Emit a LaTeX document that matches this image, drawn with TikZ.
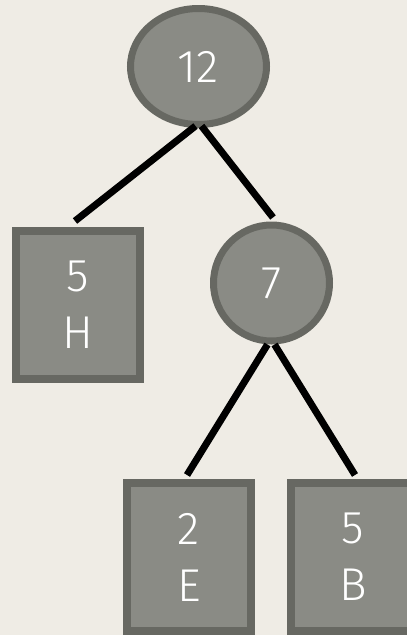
\documentclass[tikz,border=0pt]{standalone}
\usepackage{fontspec}
\setmainfont{Fira Sans}[UprightFont=* Light]
\usetikzlibrary{shapes.geometric}
\definecolor{paper}{HTML}{EFECE5}
\definecolor{nodefill}{HTML}{8A8B85}
\definecolor{nodeedge}{HTML}{676862}
\tikzset{
  inner/.style={draw=nodeedge, fill=nodefill, line width=7pt, text=white,
    font=\fontsize{46}{57}\selectfont, inner sep=0pt},
  innernode/.style={inner, ellipse},
  leafnode/.style={inner, rectangle, line width=8pt, minimum width=124pt,
    minimum height=148pt, align=center},
  treeedge/.style={draw=black, line width=7pt},
}
\begin{document}
\begin{tikzpicture}[x=1pt, y=-1pt]
  \fill[paper] (0,0) rectangle (407,635);
  \useasboundingbox (0,0) rectangle (407,635);

  \node[innernode, minimum width=136pt, minimum height=116pt] (root) at (198.5,66.5) {12};
  \node[innernode, minimum width=116pt, minimum height=116pt] (seven) at (271.5,283) {7};
  \node[leafnode] (h) at (78,305) {5\\H};
  \node[leafnode] (e) at (189,557) {2\\E};
  \node[leafnode] (b) at (353,557) {5\\B};

  \draw[treeedge] ([shift={(-3,-2)}]root.south) -- ([shift={(-3,-6)}]h.north);
  \draw[treeedge] ([shift={(3,-2)}]root.south) -- ([shift={(1.5,-4)}]seven.north);
  \draw[treeedge] ([shift={(-4,0)}]seven.south) -- ([shift={(-2,-4)}]e.north);
  \draw[treeedge] ([shift={(3,0)}]seven.south) -- ([shift={(2,-4)}]b.north);
\end{tikzpicture}
\end{document}
